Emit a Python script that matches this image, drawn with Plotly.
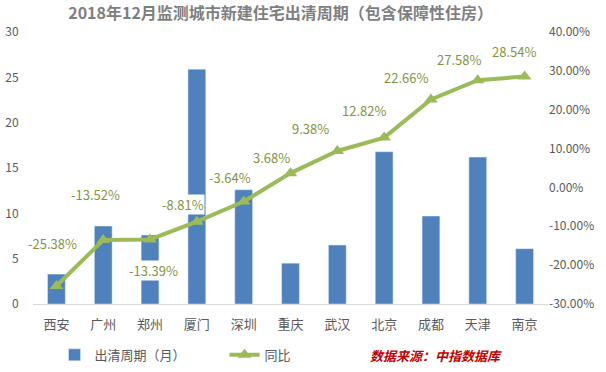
import plotly.graph_objects as go

cities = ["西安", "广州", "郑州", "厦门", "深圳", "重庆", "武汉", "北京", "成都", "天津", "南京"]
cycle_months = [3.3, 8.6, 7.6, 25.9, 12.6, 4.5, 6.5, 16.8, 9.7, 16.2, 6.1]
yoy_pct = [-25.38, -13.52, -13.39, -8.81, -3.64, 3.68, 9.38, 12.82, 22.66, 27.58, 28.54]
left_ticks = [0, 5, 10, 15, 20, 25, 30]
right_ticks = [-30, -20, -10, 0, 10, 20, 30, 40]

# label pixel offsets (style)
label_dx = [-4, -8, 3, -14, -14, -19, -27, -20, -25, -19, -11]
label_dy = [43, 45, -31, 17, 24, 16, 22, 27, 22, 21, 25]

FONT = "Noto Sans CJK SC, Noto Sans, sans-serif"
GREEN = "#9BBB59"
BLUE = "#4F81BD"

fig = go.Figure()
fig.add_trace(go.Bar(x=cities, y=cycle_months, name="出清周期（月）",
                     marker=dict(color=BLUE), width=0.38, yaxis="y"))
fig.add_trace(go.Scatter(x=cities, y=yoy_pct, name="同比", yaxis="y2",
                         mode="lines+markers",
                         line=dict(color=GREEN, width=4),
                         marker=dict(symbol="triangle-up", size=12, color=GREEN)))

for c, v, dx, dy in zip(cities, yoy_pct, label_dx, label_dy):
    fig.add_annotation(x=c, y=v, yref="y2", text=f"{v:.2f}%", showarrow=False,
                       xshift=dx, yshift=dy, bgcolor="white", borderpad=0,
                       font=dict(family=FONT, size=13, color="#849440"))

fig.add_annotation(x=0.7825, y=-0.1875, xref="paper", yref="paper",
                   xanchor="center", yanchor="middle",
                   text="<b><i>数据来源：中指数据库</i></b>", showarrow=False,
                   font=dict(family=FONT, size=13, color="#c00000"))

fig.update_layout(
    width=606, height=372,
    margin=dict(l=33, r=58, t=32, b=68, autoexpand=False),
    paper_bgcolor="white", plot_bgcolor="white",
    title=dict(text="<b>2018年12月监测城市新建住宅出清周期（包含保障性住房）</b>",
               x=0.463, xanchor="center", y=0.965, yanchor="middle",
               font=dict(family=FONT, size=16, color="#7f7f7f")),
    font=dict(family=FONT, size=12, color="#595959"),
    xaxis=dict(range=[-0.5, len(cities) - 0.5], showline=True, linecolor="#d9d9d9", linewidth=1,
               ticks="outside", ticklen=8, tickcolor="rgba(0,0,0,0)",
               tickfont=dict(size=13, color="#595959"), showgrid=False, automargin=False),
    yaxis=dict(range=[0, 30], tickvals=left_ticks, showgrid=False, zeroline=False,
               ticks="outside", ticklen=11, tickcolor="rgba(0,0,0,0)", automargin=False,
               tickfont=dict(size=12, color="#595959")),
    yaxis2=dict(range=[-30, 40], tickvals=right_ticks,
                ticktext=[f"{t:.2f}%" for t in right_ticks],
                overlaying="y", side="right", showgrid=False, zeroline=False, automargin=False,
                tickfont=dict(size=12, color="#595959")),
    legend=dict(orientation="h", xref="container", yref="container",
                x=0.09, y=0.046, xanchor="left", yanchor="middle",
                font=dict(size=13, color="#595959"), entrywidth=125),
    showlegend=True,
)

fig.write_html("out.html", config={"displayModeBar": False},
               post_script="document.body.style.margin='0px';")
